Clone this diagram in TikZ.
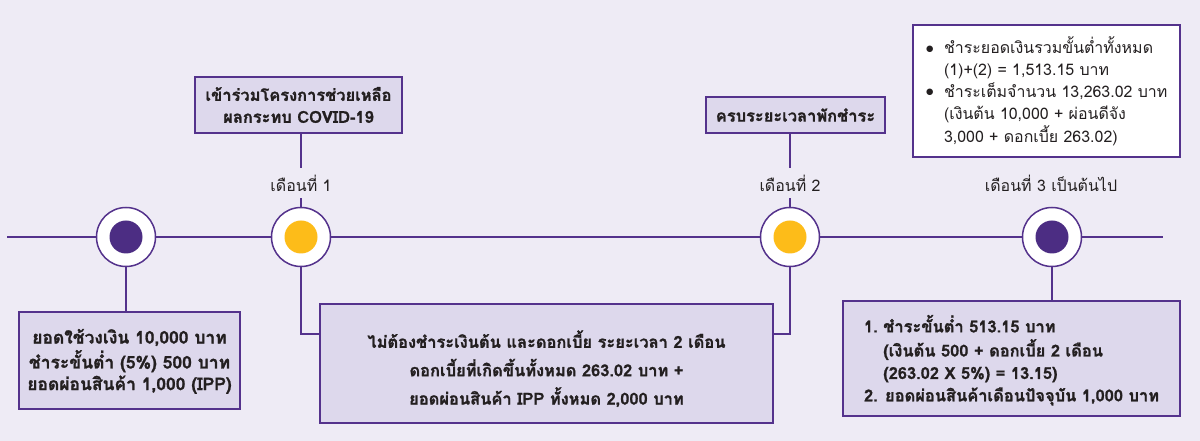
\documentclass[tikz,border=0pt]{standalone}
\usepackage{fontspec}
\newfontfamily\thaifont[Script=Thai, BoldFeatures={FakeBold=1.2}]{Loma}
\newfontfamily\dejavu{DejaVu Sans}
\definecolor{bgcol}{RGB}{238,235,245}
\definecolor{boxfill}{RGB}{221,216,236}
\definecolor{tlpurple}{RGB}{84,50,140}
\definecolor{dotpurple}{RGB}{76,45,131}
\definecolor{dotyellow}{RGB}{253,188,25}
\definecolor{txt}{RGB}{35,31,32}
\newcommand{\lowerby}[2]{\raisebox{-#1}[\height][\depth]{#2}}
\newcommand{\bul}{\raisebox{2.5bp}{\dejavu\fontsize{8.5}{22}\selectfont ●}}
\tikzset{
  pline/.style={draw=tlpurple, line width=1.5bp},
  boxstyle/.style={draw=tlpurple, line width=1.6bp, fill=boxfill, inner sep=0pt,
    text=txt, align=center, font=\thaifont\bfseries\fontsize{16.5}{22}\selectfont},
  ring/.style={circle, draw=tlpurple, line width=1.5bp, fill=white, minimum size=59bp,
    inner sep=0pt, path picture={\fill[#1] (path picture bounding box.center) circle[radius=16.5bp];}},
  monthlabel/.style={text=txt, inner sep=0pt, minimum height=30bp, font=\thaifont\fontsize{16}{20}\selectfont},
}
\begin{document}
\begin{tikzpicture}[x=1bp,y=-1bp]
\fill[bgcol] (0,0) rectangle (1200,441);
\useasboundingbox (0,0) rectangle (1200,441);

% timeline end points
\coordinate (L) at (7,237);
\coordinate (R) at (1163,237);

% circles
\node[ring=dotpurple] (c1) at (126,237) {};
\node[ring=dotyellow] (c2) at (301,237) {};
\node[ring=dotyellow] (c3) at (790,237) {};
\node[ring=dotpurple] (c4) at (1052,237) {};

\draw[pline] (L) -- (c1.west);
\draw[pline] (c1.east) -- (c2.west);
\draw[pline] (c2.east) -- (c3.west);
\draw[pline] (c3.east) -- (c4.west);
\draw[pline] (c4.east) -- (R);

% bottom boxes
\node[boxstyle, minimum width=221bp, minimum height=97bp,
  font=\thaifont\bfseries\fontsize{17.5}{21.7}\selectfont] (b1) at (129.5,360.5)
  {\lowerby{2bp}{\begin{tabular}{@{}c@{}}ยอดใช้วงเงิน 10,000 บาท\\ชำระขั้นต่ำ (5\%) 500 บาท\\ยอดผ่อนสินค้า 1,000 (IPP)\end{tabular}}};
\node[boxstyle, minimum width=453bp, minimum height=119bp,
  font=\thaifont\bfseries\fontsize{16.5}{28.5}\selectfont] (b2) at (546.5,363.5)
  {\lowerby{7bp}{\begin{tabular}{@{}c@{}}ไม่ต้องชำระเงินต้น และดอกเบี้ย ระยะเวลา 2 เดือน\\ดอกเบี้ยที่เกิดขึ้นทั้งหมด 263.02 บาท +\\ยอดผ่อนสินค้า IPP ทั้งหมด 2,000 บาท\end{tabular}}};
\node[boxstyle, minimum width=337bp, minimum height=115bp,
  font=\thaifont\bfseries\fontsize{16.5}{22.5}\selectfont] (b3) at (1011.5,358.5)
  {\lowerby{3bp}{\begin{tabular}{@{}l@{\ }l@{}}
   1. & ชำระขั้นต่ำ 513.15 บาท\\
      & (เงินต้น 500 + ดอกเบี้ย 2 เดือน\\
      & (263.02 X 5\%) = 13.15)\\
   \multicolumn{2}{@{}l@{}}{2. ยอดผ่อนสินค้าเดือนปัจจุบัน 1,000 บาท}
   \end{tabular}}};

% top boxes
\node[boxstyle, minimum width=207bp, minimum height=56bp] (t1) at (298.5,105)
  {เข้าร่วมโครงการช่วยเหลือ\\ผลกระทบ COVID-19};
\node[boxstyle, minimum width=179bp, minimum height=36bp] (t2) at (795.5,115)
  {ครบระยะเวลาพักชำระ};
\node[boxstyle, fill=white, minimum width=267bp, minimum height=132bp,
  text width=241bp, inner xsep=13bp, align=left,
  font=\thaifont\fontsize{16}{22}\selectfont] (t3) at (1046.5,91)
  {\lowerby{2bp}{\begin{tabular}{@{}l@{\ \ }l@{}}
   \bul & ชำระยอดเงินรวมขั้นต่ำทั้งหมด\\
      & (1)+(2) = 1,513.15 บาท\\
   \bul & ชำระเต็มจำนวน 13,263.02 บาท\\
      & (เงินต้น 10,000 + ผ่อนดีจัง\\
      & 3,000 + ดอกเบี้ย 263.02)
   \end{tabular}}};

% month labels
\node[monthlabel] (m1) at (301,183) {เดือนที่ 1};
\node[monthlabel] (m2) at (790,183) {เดือนที่ 2};
\node[monthlabel] (m3) at (1051,183) {เดือนที่ 3 เป็นต้นไป};

% connectors
\draw[pline] (t1.south -| m1.north) -- (m1.north);
\draw[pline] (m1.south) -- (c2.north);
\draw[pline] (t2.south -| m2.north) -- (m2.north);
\draw[pline] (m2.south) -- (c3.north);
\draw[pline] (c1.south) -- (c1.south |- b1.north);
\draw[pline] (c2.south) |- ([yshift=-31bp]b2.north west);
\draw[pline] (c3.south) |- ([yshift=-31bp]b2.north east);
\draw[pline] (c4.south) -- (c4.south |- b3.north);
\end{tikzpicture}
\end{document}
